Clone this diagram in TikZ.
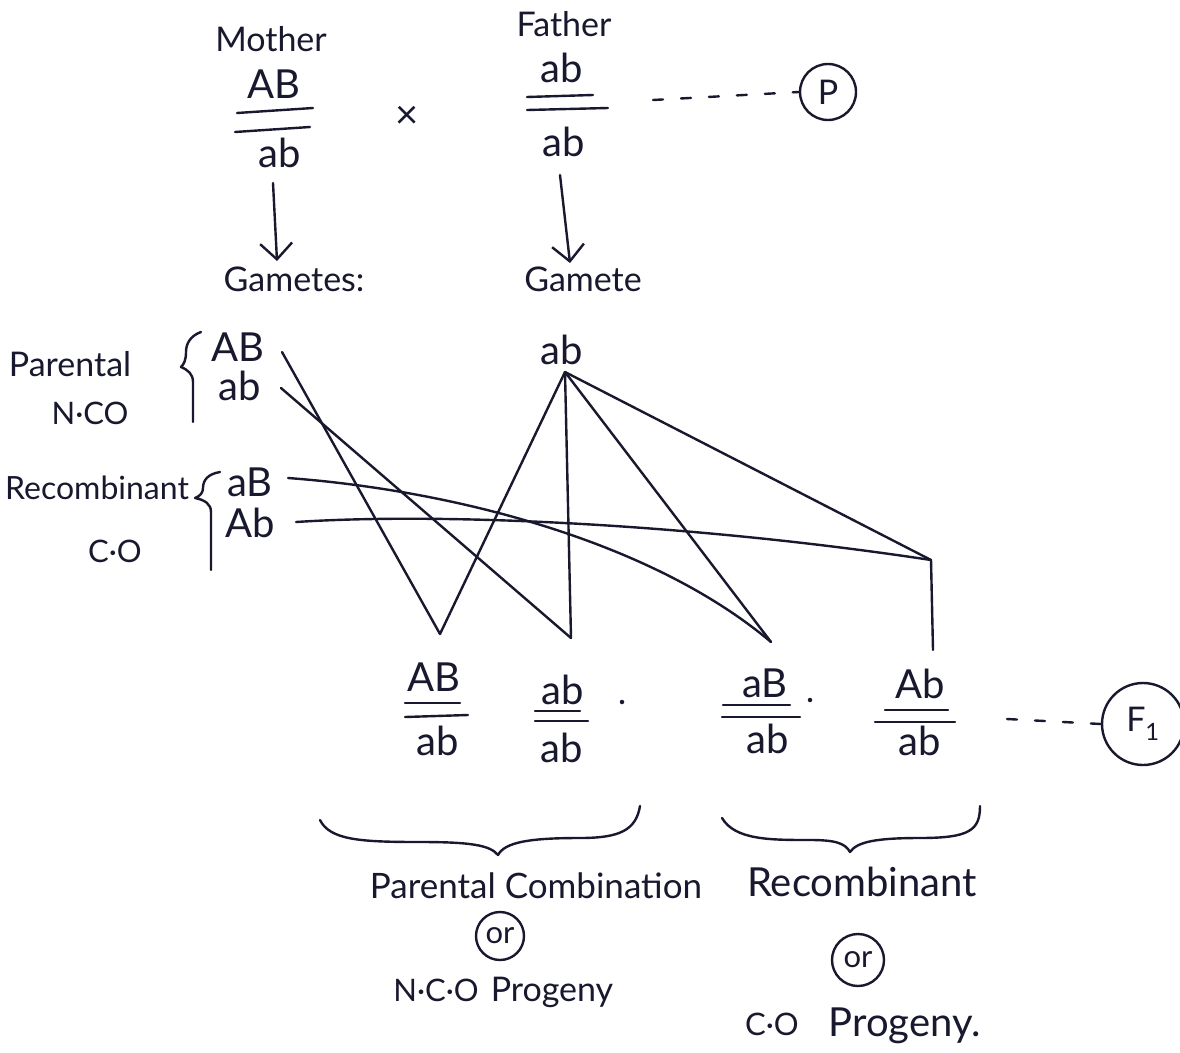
\documentclass[tikz,border=0pt]{standalone}
\usepackage{fontspec}
\setmainfont{Lato}
\usetikzlibrary{arrows.meta}
\definecolor{ink}{RGB}{24,24,46}
\begin{document}
\begin{tikzpicture}[x=1pt,y=-1pt,
  every node/.style={inner sep=0pt, text=ink},
  line/.style={draw=ink, line width=2.4pt, line cap=round, line join=round},
  bar/.style={line},
  geno/.style={font=\fontsize{40}{42}\selectfont},
  lbl/.style={font=\fontsize{34}{38}\selectfont},
  big/.style={font=\fontsize{40}{44}\selectfont},
  small/.style={font=\fontsize{31}{34}\selectfont},
  ring/.style={draw=ink, line width=2.4pt, circle, inner sep=0pt, minimum size=#1},
  gen/.style={line, -{Straight Barb[length=16pt,width=32pt]}},
  dashlink/.style={line, dash pattern=on 10pt off 18pt},
  dot/.style={fill=ink, circle, minimum size=4.5pt}]

% page
\fill[white] (0,0) rectangle (1180,1052);
\useasboundingbox (0,0) rectangle (1180,1052);

% ---- parents ----
\node[lbl] (mother) at (271,39) {Mother};
\node[geno] (mTop) at (274,84) {AB};
\draw[bar] (237,113) -- (313,108);
\draw[bar] (235,132) -- (310,127);
\node[geno] (mBot) at (280,153) {ab};

\node[font=\fontsize{40}{44}\selectfont] (cross) at (407,117) {×};

\node[lbl] (father) at (564,24) {Father};
\node[geno] (fTop) at (562,68) {ab};
\draw[bar] (527,97) -- (593,95);
\draw[bar] (527,110) -- (608,108);
\node[geno] (fBot) at (564,142) {ab};

\node[ring=56pt, lbl] (P) at (828,92) {P};
\coordinate (pDash) at (653,100);
\draw[dashlink] (pDash) -- (P.west);

% ---- gamete formation ----
\coordinate (mArrowTop) at (273,183);
\coordinate (mArrowEnd) at (277,261);
\draw[gen] (mArrowTop) -- (mArrowEnd);
\coordinate (fArrowTop) at (560,175);
\coordinate (fArrowEnd) at (570,263);
\draw[gen] (fArrowTop) -- (fArrowEnd);

\node[lbl] (gmLabel) at (294,279) {Gametes:};
\node[lbl] (gfLabel) at (583,279) {Gamete};

% ---- gametes of the mother ----
\node[lbl] (parental) at (70,364) {Parental};
\node[small] (nco) at (90,413) {N·CO};
\draw[line] (201,332) .. controls (190,336) and (186,344) .. (186,352)
            .. controls (186,360) and (184,364) .. (181,367)
            .. controls (188,370) and (193,374) .. (193,382) -- (193,422);
\node[geno] (gAB) at (238,347) {AB};
\node[geno] (gab) at (240,386) {ab};

\node[font=\fontsize{32}{36}\selectfont] (recomb) at (97,488) {Recombinant};
\node[small] (co) at (115,551) {C·O};
\draw[line] (220,472) .. controls (208,474) and (203,480) .. (203,488)
            .. controls (203,493) and (200,496) .. (195,498)
            .. controls (205,500) and (211,504) .. (211,512) -- (211,570);
\node[geno] (gaB) at (250,482) {aB};
\node[geno] (gAb) at (250,523) {Ab};

% ---- gamete of the father ----
\node[geno] (fg) at (562,350) {ab};

% ---- fertilisation lines ----
\coordinate (sAB) at (282,352);
\coordinate (sab) at (281,388);
\coordinate (saB) at (288,478);
\coordinate (sAb) at (296,522);
\coordinate (apex) at (565,372);
\coordinate (v1) at (440,634);
\coordinate (v2) at (571,638);
\coordinate (v3) at (771,642);
\coordinate (J) at (931,560);
\coordinate (v4) at (933,650);

\draw[line] (sAB) -- (v1);
\draw[line] (sab) -- (v2);
\draw[line] (saB) .. controls (450,490) and (650,540) .. (v3);
\draw[line] (sAb) .. controls (450,512) and (700,525) .. (J);
\draw[line] (apex) -- (v1);
\draw[line] (apex) -- (v2);
\draw[line] (apex) -- (v3);
\draw[line] (apex) -- (J) -- (v4);

% ---- progeny ----
\node[geno] (p1Top) at (434,677) {AB};
\draw[bar] (405,703) -- (460,703);
\draw[bar] (405,717) -- (468,715);
\node[geno] (p1Bot) at (438,741) {ab};

\node[geno] (p2Top) at (563,690) {ab};
\draw[bar] (535,711) -- (580,711);
\draw[bar] (535,721) -- (588,721);
\node[geno] (p2Bot) at (562,748) {ab};
\node[dot] (d1) at (622,702) {};

\node[geno] (p3Top) at (765,683) {aB};
\draw[bar] (723,705) -- (790,705);
\draw[bar] (722,717) -- (800,717);
\node[geno] (p3Bot) at (768,739) {ab};
\node[dot] (d2) at (810,700) {};

\node[geno] (p4Top) at (920,684) {Ab};
\draw[bar] (885,710) -- (948,710);
\draw[bar] (875,722) -- (955,722);
\node[geno] (p4Bot) at (920,741) {ab};

\node[ring=82pt, lbl] (F1) at (1143,724) {F\textsubscript{1}};
\coordinate (fDash) at (1007,719);
\draw[dashlink] (fDash) -- (F1.west);

% ---- grouping braces ----
\draw[line] (320,820) .. controls (330,840) and (360,842) .. (420,842)
            .. controls (470,842) and (490,845) .. (498,855)
            .. controls (505,842) and (530,838) .. (580,838)
            .. controls (620,838) and (636,830) .. (640,806);
\draw[line] (722,818) .. controls (735,840) and (770,840) .. (810,840)
            .. controls (835,840) and (845,843) .. (850,852)
            .. controls (857,842) and (875,838) .. (920,838)
            .. controls (970,838) and (980,830) .. (980,806);

% ---- classes of progeny ----
\node[font=\fontsize{35}{40}\selectfont] (pc) at (536,886) {Parental Combination};
\node[ring=48pt, small] (or1) at (500,936) {or};
\node[small] (nco2) at (436,990) {N·C·O};
\node[lbl] (prog1) at (552,992) {Progeny};

\node[big] (rec2) at (862,882) {Recombinant};
\node[ring=52pt, small] (or2) at (858,960) {or};
\node[small] (co2) at (772,1024) {C·O};
\node[big] (prog2) at (905,1026) {Progeny.};
\end{tikzpicture}
\end{document}
